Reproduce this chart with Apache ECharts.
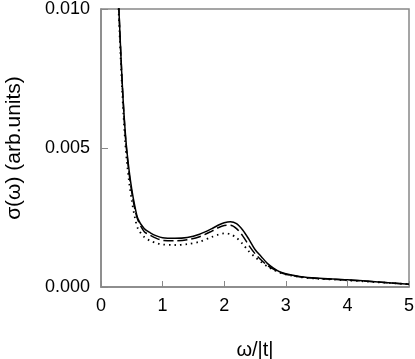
<!DOCTYPE html>
<html>
<head>
<meta charset="utf-8">
<script src="https://cdn.jsdelivr.net/npm/echarts@6/dist/echarts.min.js"></script>
<style>
  html, body { margin: 0; padding: 0; background: #fff; }
  #main { width: 415px; height: 359px; }
</style>
</head>
<body>
<div id="main"></div>
<script>
// omega / |t|
var omega = [0.25, 0.3, 0.35, 0.4, 0.45, 0.5, 0.55, 0.6, 0.7, 0.8, 0.9, 1.0, 1.2, 1.4, 1.6, 1.8, 1.9, 2.0, 2.1, 2.2, 2.3, 2.4, 2.5, 2.6, 2.7, 2.8, 2.9, 3.0, 3.25, 3.5, 4.0, 4.5, 5.0];

var solid = [0.0122, 0.0095, 0.0071, 0.0054, 0.0043, 0.0035, 0.0029, 0.00245, 0.00210, 0.00195, 0.00184, 0.00177, 0.00175, 0.00178, 0.00190, 0.00210, 0.00222, 0.00231, 0.00235, 0.00228, 0.00205, 0.00172, 0.00135, 0.00110, 0.00085, 0.00068, 0.00055, 0.00048, 0.00037, 0.00032, 0.00026, 0.00018, 0.0001];

var dashed = [0.0122, 0.0095, 0.0071, 0.0053, 0.0042, 0.0034, 0.0028, 0.0024, 0.00200, 0.00186, 0.00175, 0.00168, 0.00166, 0.00170, 0.00181, 0.00201, 0.00213, 0.00221, 0.00222, 0.00210, 0.00184, 0.00150, 0.00120, 0.00097, 0.00078, 0.00064, 0.00053, 0.00046, 0.00036, 0.00031, 0.00025, 0.00018, 0.0001];

var dotted = [0.0120, 0.0092, 0.0068, 0.0050, 0.0039, 0.0031, 0.0025, 0.0021, 0.00180, 0.00166, 0.00158, 0.00153, 0.00151, 0.00154, 0.00163, 0.00180, 0.00188, 0.00193, 0.00190, 0.00177, 0.00155, 0.00128, 0.00108, 0.00090, 0.00074, 0.00062, 0.00052, 0.00045, 0.00035, 0.00030, 0.00024, 0.00017, 0.0001];

var xTicks = [0, 1, 2, 3, 4, 5];
var yTicks = [0, 0.005, 0.010];

function pairs(ys) {
  return omega.map(function (x, i) { return [x, ys[i]]; });
}

var chartDom = document.getElementById("main");
var myChart = echarts.init(chartDom);
var font = "Liberation Sans";
var gray = "#888";

var option = {
  animation: false,
  grid: {
    left: 101,
    right: 6,
    top: 9,
    bottom: 72,
    outerBoundsMode: "none",
    show: true,
    borderColor: gray,
    borderWidth: 1.5
  },
  xAxis: {
    type: "value",
    min: 0,
    max: 5,
    interval: 1,
    name: "ω/|t|",
    nameLocation: "middle",
    nameGap: 53,
    nameMoveOverlap: false,
    nameTextStyle: { fontFamily: font, fontSize: 20, color: "#000" },
    axisLine: { show: true, lineStyle: { color: gray, width: 1.5 } },
    axisTick: { show: true, inside: true, length: 6, lineStyle: { color: gray } },
    splitLine: { show: false },
    axisLabel: {
      fontFamily: font, fontSize: 18, color: "#000", margin: 10,
      formatter: function (v) { return xTicks.indexOf(v) >= 0 ? String(v) : ""; }
    }
  },
  yAxis: {
    type: "value",
    min: 0,
    max: 0.010,
    interval: 0.005,
    name: "σ(ω) (arb.units)",
    nameLocation: "middle",
    nameGap: 76,
    nameMoveOverlap: false,
    nameTextStyle: { fontFamily: font, fontSize: 21, color: "#000" },
    axisLine: { show: true, lineStyle: { color: gray, width: 1.5 } },
    axisTick: { show: true, inside: true, length: 7, lineStyle: { color: gray } },
    splitLine: { show: false },
    axisLabel: {
      fontFamily: font, fontSize: 18, color: "#000", margin: 11,
      formatter: function (v) {
        var k = yTicks.findIndex(function (t) { return Math.abs(t - v) < 1e-9; });
        return k >= 0 ? yTicks[k].toFixed(3) : "";
      }
    }
  },
  series: [
    {
      name: "solid",
      type: "line",
      smooth: 0.3,
      showSymbol: false,
      clip: true,
      lineStyle: { color: "#000", width: 1.5, type: "solid" },
      data: pairs(solid)
    },
    {
      name: "dashed",
      type: "line",
      smooth: 0.3,
      showSymbol: false,
      clip: true,
      lineStyle: { color: "#000", width: 1.5, type: [10, 4] },
      data: pairs(dashed)
    },
    {
      name: "dotted",
      type: "line",
      smooth: 0.3,
      showSymbol: false,
      clip: true,
      lineStyle: { color: "#000", width: 1.8, type: [1.5, 4] },
      data: pairs(dotted)
    }
  ]
};

option && myChart.setOption(option);
</script>
</body>
</html>
